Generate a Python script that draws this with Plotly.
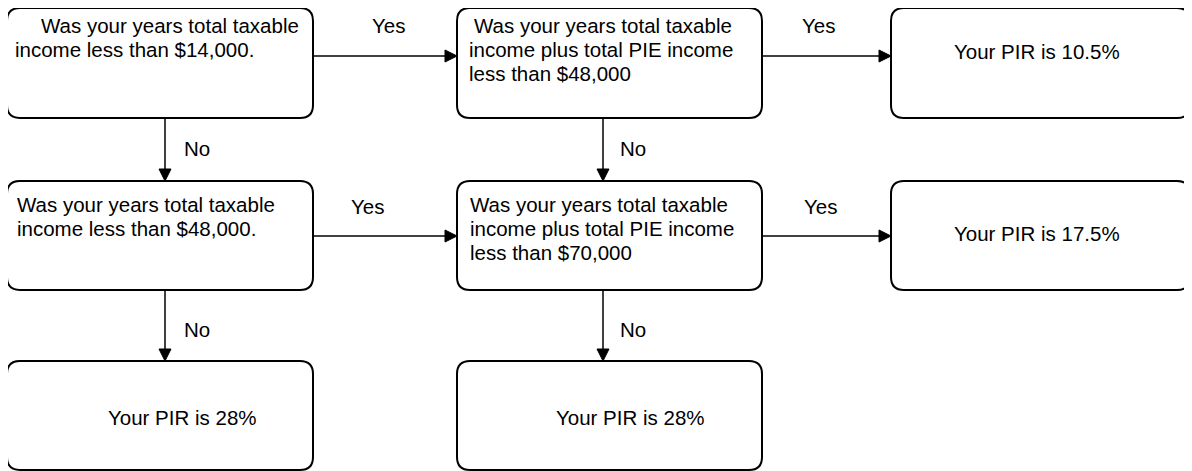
import plotly.graph_objects as go

W, H = 1192, 471
PAGE_MARGIN = 8  # default body margin of the html page
FONT = "Liberation Sans, Arial, sans-serif"
FS = 20.5

# ---- content -------------------------------------------------------------
question_lines = {
    "q1": ["Was your years total taxable", "income less than $14,000."],
    "q2": ["Was your years total taxable", "income plus total PIE income", "less than $48,000"],
    "q3": ["Was your years total taxable", "income less than $48,000."],
    "q4": ["Was your years total taxable", "income plus total PIE income", "less than $70,000"],
}
result_text = {
    "r1": "Your PIR is 10.5%",
    "r2": "Your PIR is 17.5%",
    "r3": "Your PIR is 28%",
    "r4": "Your PIR is 28%",
}
edges_from = ["q1", "q2", "q1", "q2", "q3", "q4", "q3", "q4"]
edges_to = ["q2", "r1", "q3", "q4", "q4", "r2", "r3", "r4"]
edge_labels = ["Yes", "Yes", "No", "No", "Yes", "Yes", "No", "No"]

# ---- layout (positions in pixels) -------------------------------------------
col_x = [(7, 313), (457, 762), (891, 1190)]
row_y = [(8, 118), (181, 290), (361, 470)]
node_cell = {"q1": (0, 0), "q2": (0, 1), "r1": (0, 2),
             "q3": (1, 0), "q4": (1, 1), "r2": (1, 2),
             "r3": (2, 0), "r4": (2, 1)}
row_arrow_y = [56, 236]          # horizontal connector level per row
col_arrow_x = [165, 603]         # vertical connector position per column
text_left = {"q1": [39, 13], "q2": [472, 467, 467], "q3": [15, 15], "q4": [468, 468, 468]}
text_top = [25, 204]             # first-line centre per row
line_gap = 24
result_pos = {"r1": (1037, 51), "r2": (1037, 233), "r3": (182, 417), "r4": (630, 417)}
label_pos = [(388, 25), (818, 25), (197, 148), (633, 148),
             (367, 206), (820, 206), (197, 329), (633, 329)]
R = 13
LW = 2
HEAD_L, HEAD_W = 12, 12


def box(node):
    r, c = node_cell[node]
    x0, x1 = col_x[c]
    y0, y1 = row_y[r]
    return x0, y0, x1, y1


def rounded_path(x0, y0, x1, y1, r):
    return (f"M {x0+r},{y0} L {x1-r},{y0} Q {x1},{y0} {x1},{y0+r} "
            f"L {x1},{y1-r} Q {x1},{y1} {x1-r},{y1} L {x0+r},{y1} "
            f"Q {x0},{y1} {x0},{y1-r} L {x0},{y0+r} Q {x0},{y0} {x0+r},{y0} Z")


shapes = []
annotations = []

for node in node_cell:
    x0, y0, x1, y1 = box(node)
    shapes.append(dict(type="path", path=rounded_path(x0, y0, x1, y1, R),
                       xref="x", yref="y", line=dict(color="black", width=LW),
                       fillcolor="white", layer="below"))

for a, b in zip(edges_from, edges_to):
    ra, ca = node_cell[a]
    rb, cb = node_cell[b]
    ax0, ay0, ax1, ay1 = box(a)
    bx0, by0, bx1, by1 = box(b)
    if ra == rb:  # horizontal
        y = row_arrow_y[ra]
        xs, xe = ax1, bx0
        shapes.append(dict(type="line", x0=xs, y0=y, x1=xe - HEAD_L, y1=y,
                           xref="x", yref="y", line=dict(color="black", width=1.5)))
        shapes.append(dict(type="path", xref="x", yref="y",
                           path=f"M {xe},{y} L {xe-HEAD_L},{y-HEAD_W/2} L {xe-HEAD_L},{y+HEAD_W/2} Z",
                           fillcolor="black", line=dict(color="black", width=1)))
    else:  # vertical
        x = col_arrow_x[ca]
        ys, ye = ay1, by0
        shapes.append(dict(type="line", x0=x, y0=ys, x1=x, y1=ye - HEAD_L,
                           xref="x", yref="y", line=dict(color="black", width=1.5)))
        shapes.append(dict(type="path", xref="x", yref="y",
                           path=f"M {x},{ye} L {x-HEAD_W/2},{ye-HEAD_L} L {x+HEAD_W/2},{ye-HEAD_L} Z",
                           fillcolor="black", line=dict(color="black", width=1)))

for lbl, (lx, ly) in zip(edge_labels, label_pos):
    annotations.append(dict(x=lx, y=ly, xref="x", yref="y", text=lbl, showarrow=False,
                            xanchor="center", yanchor="middle",
                            font=dict(family=FONT, size=FS, color="black")))

for node, lines in question_lines.items():
    r, c = node_cell[node]
    for i, line in enumerate(lines):
        annotations.append(dict(x=text_left[node][i], y=text_top[r] + i * line_gap,
                                xref="x", yref="y", text=line, showarrow=False,
                                xanchor="left", yanchor="middle",
                                font=dict(family=FONT, size=FS, color="black")))

for node, txt in result_text.items():
    tx, ty = result_pos[node]
    annotations.append(dict(x=tx, y=ty, xref="x", yref="y", text=txt, showarrow=False,
                            xanchor="center", yanchor="middle",
                            font=dict(family=FONT, size=FS, color="black")))

fig = go.Figure()
fig.update_layout(
    width=W - PAGE_MARGIN, height=H - PAGE_MARGIN,
    margin=dict(l=0, r=0, t=0, b=0),
    paper_bgcolor="white", plot_bgcolor="white",
    xaxis=dict(range=[PAGE_MARGIN, W], visible=False, fixedrange=True),
    yaxis=dict(range=[H, PAGE_MARGIN], visible=False, fixedrange=True),
    shapes=shapes, annotations=annotations, showlegend=False,
)
fig.write_html("out.html", config=dict(displayModeBar=False))
